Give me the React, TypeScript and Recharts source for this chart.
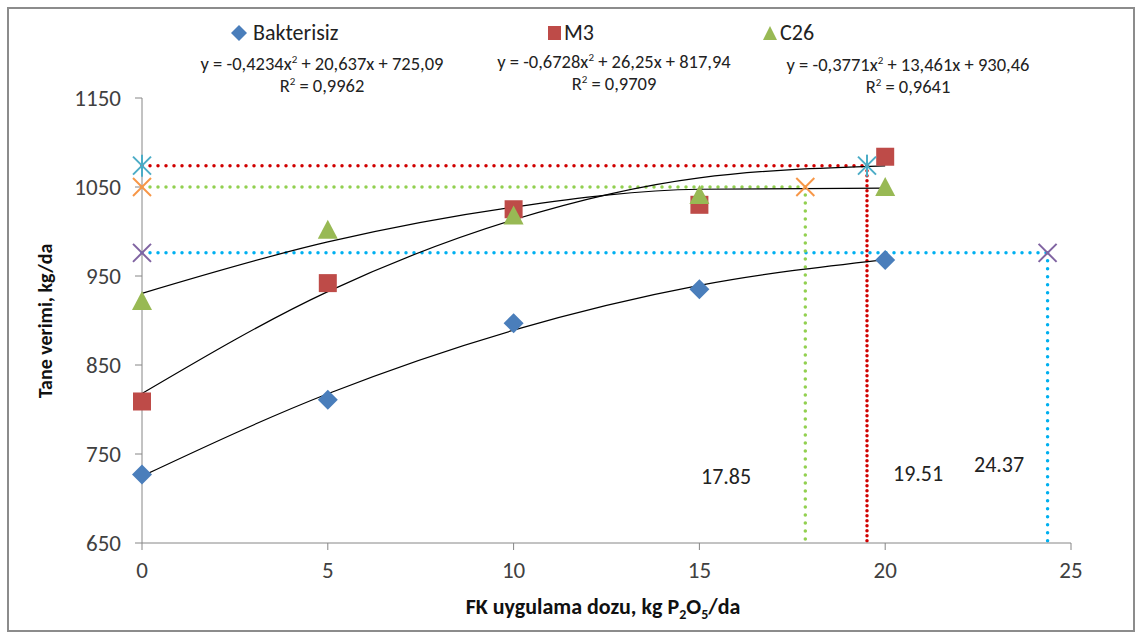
import React from 'react';
import {
  ComposedChart,
  Line,
  Scatter,
  XAxis,
  YAxis,
  ReferenceLine,
} from 'recharts';

// doses (kg P2O5/da) and measured grain yield (kg/da)
const DOSES = [0, 5, 10, 15, 20];
const BAKTERISIZ = [727, 811, 897, 935, 968];
const M3 = [809, 942, 1025, 1030, 1084];
const C26 = [922, 1002, 1018, 1041, 1050];

// polynomial trend values read at each dose
const TREND_B = [725.1, 817.7, 889.1, 939.4, 968.5];
const TREND_M = [817.9, 932.4, 1013.2, 1060.3, 1073.8];
const TREND_C = [930.5, 988.3, 1027.4, 1047.5, 1048.8];

// optimum doses and yields (Bakterisiz, M3, C26)
const OPT_LABELS = ['24.37', '19.51', '17.85'];
const OPT_X = [24.37, 19.51, 17.85];
const OPT_Y = [976, 1074, 1050];

const X_TICKS = [0, 5, 10, 15, 20, 25];
const Y_TICKS = [650, 750, 850, 950, 1050, 1150];

const FONT = 'Carlito, Lato, "Open Sans", sans-serif';
const TEXT = '#404040';

const toPoints = (ys: number[]) => DOSES.map((x, i) => ({ x, y: ys[i] }));

const Diamond = (p: any) => (
  <polygon
    points={`${p.cx},${p.cy - 10} ${p.cx + 10},${p.cy} ${p.cx},${p.cy + 10} ${p.cx - 10},${p.cy}`}
    fill="#4a7ebb"
  />
);
const Square = (p: any) => <rect x={p.cx - 9} y={p.cy - 9} width={18} height={18} fill="#be4b48" />;
const Triangle = (p: any) => (
  <polygon points={`${p.cx},${p.cy - 10} ${p.cx + 10},${p.cy + 9} ${p.cx - 10},${p.cy + 9}`} fill="#98b954" />
);
const Cross = (color: string) => (p: any) => (
  <g stroke={color} strokeWidth={2}>
    <line x1={p.cx - 9} y1={p.cy - 9} x2={p.cx + 9} y2={p.cy + 9} />
    <line x1={p.cx - 9} y1={p.cy + 9} x2={p.cx + 9} y2={p.cy - 9} />
  </g>
);
const Star = (p: any) => (
  <g stroke="#4bacc6" strokeWidth={2}>
    <line x1={p.cx - 9} y1={p.cy - 9} x2={p.cx + 9} y2={p.cy + 9} />
    <line x1={p.cx - 9} y1={p.cy + 9} x2={p.cx + 9} y2={p.cy - 9} />
    <line x1={p.cx} y1={p.cy - 11} x2={p.cx} y2={p.cy + 11} />
  </g>
);

const GUIDE_COLORS = ['#00b0f0', '#d00000', '#92d050'];
const MARK_SHAPES = [Cross('#8064a2'), Star, Cross('#f79646')];

const eqStyle: React.CSSProperties = {
  position: 'absolute',
  fontSize: 18.5,
  color: '#222',
  textAlign: 'center',
  width: 320,
  lineHeight: '22px',
};
const sup: React.CSSProperties = { fontSize: 11, lineHeight: 0, verticalAlign: 'super' };

const App: React.FC = () => {
  return (
    <div style={{ position: 'absolute', left: 0, top: 0, width: 1139, height: 637, background: '#fff', fontFamily: FONT }}>
      <div style={{ position: 'absolute', left: 7, top: 7, width: 1124, height: 621, border: '2px solid #8c8c8c' }} />
      <ComposedChart
        width={1139}
        height={637}
        margin={{ top: 98, right: 68, bottom: 64, left: 0 }}
        style={{ position: 'absolute', left: 0, top: 0 }}
      >
        <XAxis
          type="number"
          dataKey="x"
          domain={[0, 25]}
          ticks={X_TICKS}
          height={30}
          stroke="#868686"
          tickSize={7}
          tickMargin={12}
          tick={{ fill: TEXT, fontSize: 23, fontFamily: FONT }}
        />
        <YAxis
          type="number"
          dataKey="y"
          domain={[650, 1150]}
          ticks={Y_TICKS}
          width={142}
          stroke="#868686"
          tickSize={7}
          tickMargin={14}
          tick={{ fill: TEXT, fontSize: 23, fontFamily: FONT }}
        />
        {OPT_X.map((ox, i) => (
          <ReferenceLine
            key={`h${i}`}
            segment={[{ x: 0, y: OPT_Y[i] }, { x: ox, y: OPT_Y[i] }]}
            stroke={GUIDE_COLORS[i]}
            strokeWidth={3.5}
            strokeDasharray="0 8"
            strokeLinecap="round"
          />
        ))}
        {OPT_X.map((ox, i) => (
          <ReferenceLine
            key={`v${i}`}
            segment={[{ x: ox, y: OPT_Y[i] }, { x: ox, y: 650 }]}
            stroke={GUIDE_COLORS[i]}
            strokeWidth={3.5}
            strokeDasharray={i === 1 ? '0 5' : '0 8'}
            strokeLinecap="round"
          />
        ))}
        <Line data={toPoints(TREND_B)} dataKey="y" type="monotone" stroke="#000" strokeWidth={1.2} dot={false} isAnimationActive={false} />
        <Line data={toPoints(TREND_M)} dataKey="y" type="monotone" stroke="#000" strokeWidth={1.2} dot={false} isAnimationActive={false} />
        <Line data={toPoints(TREND_C)} dataKey="y" type="monotone" stroke="#000" strokeWidth={1.2} dot={false} isAnimationActive={false} />
        <Scatter data={toPoints(BAKTERISIZ)} shape={Diamond} isAnimationActive={false} />
        <Scatter data={toPoints(M3)} shape={Square} isAnimationActive={false} />
        <Scatter data={toPoints(C26)} shape={Triangle} isAnimationActive={false} />
        {OPT_X.map((ox, i) => (
          <Scatter
            key={`m${i}`}
            data={[{ x: 0, y: OPT_Y[i] }, { x: ox, y: OPT_Y[i] }]}
            shape={MARK_SHAPES[i]}
            isAnimationActive={false}
          />
        ))}
      </ComposedChart>

      {/* legend */}
      <div style={{ position: 'absolute', top: 19, left: 230, fontSize: 22, color: '#222', display: 'flex', alignItems: 'center' }}>
        <svg width={18} height={18}><polygon points="9,1 17,9 9,17 1,9" fill="#4a7ebb" /></svg>
        <span style={{ marginLeft: 5 }}>Bakterisiz</span>
      </div>
      <div style={{ position: 'absolute', top: 19, left: 548, fontSize: 22, color: '#222', display: 'flex', alignItems: 'center' }}>
        <svg width={14} height={16}><rect x={0} y={1} width={13} height={14} fill="#be4b48" /></svg>
        <span style={{ marginLeft: 2 }}>M3</span>
      </div>
      <div style={{ position: 'absolute', top: 19, left: 762, fontSize: 22, color: '#222', display: 'flex', alignItems: 'center' }}>
        <svg width={16} height={16}><polygon points="8,1 15,15 1,15" fill="#98b954" /></svg>
        <span style={{ marginLeft: 2 }}>C26</span>
      </div>
      <div style={{ ...eqStyle, left: 162, top: 53 }}>
        y = -0,4234x<span style={sup}>2</span> + 20,637x + 725,09<br />R<span style={sup}>2</span> = 0,9962
      </div>
      <div style={{ ...eqStyle, left: 454, top: 51 }}>
        y = -0,6728x<span style={sup}>2</span> + 26,25x + 817,94<br />R<span style={sup}>2</span> = 0,9709
      </div>
      <div style={{ ...eqStyle, left: 748, top: 54 }}>
        y = -0,3771x<span style={sup}>2</span> + 13,461x + 930,46<br />R<span style={sup}>2</span> = 0,9641
      </div>

      {/* optimum dose labels */}
      <div style={{ position: 'absolute', left: 974, top: 451, fontSize: 22, color: '#222' }}>{OPT_LABELS[0]}</div>
      <div style={{ position: 'absolute', left: 893, top: 460, fontSize: 22, color: '#222' }}>{OPT_LABELS[1]}</div>
      <div style={{ position: 'absolute', left: 701, top: 463, fontSize: 22, color: '#222' }}>{OPT_LABELS[2]}</div>

      {/* axis titles */}
      <div
        style={{
          position: 'absolute',
          left: 45,
          top: 321,
          transform: 'translate(-50%, -50%) rotate(-90deg)',
          fontSize: 20,
          fontWeight: 'bold',
          color: '#111',
          whiteSpace: 'nowrap',
        }}
      >
        Tane verimi, kg/da
      </div>
      <div
        style={{
          position: 'absolute',
          left: 603,
          top: 608,
          transform: 'translate(-50%, -50%)',
          fontSize: 22,
          fontWeight: 'bold',
          color: '#111',
          whiteSpace: 'nowrap',
        }}
      >
        FK uygulama dozu, kg P<sub style={{ fontSize: 14 }}>2</sub>O<sub style={{ fontSize: 14 }}>5</sub>/da
      </div>
    </div>
  );
};

export default App;
